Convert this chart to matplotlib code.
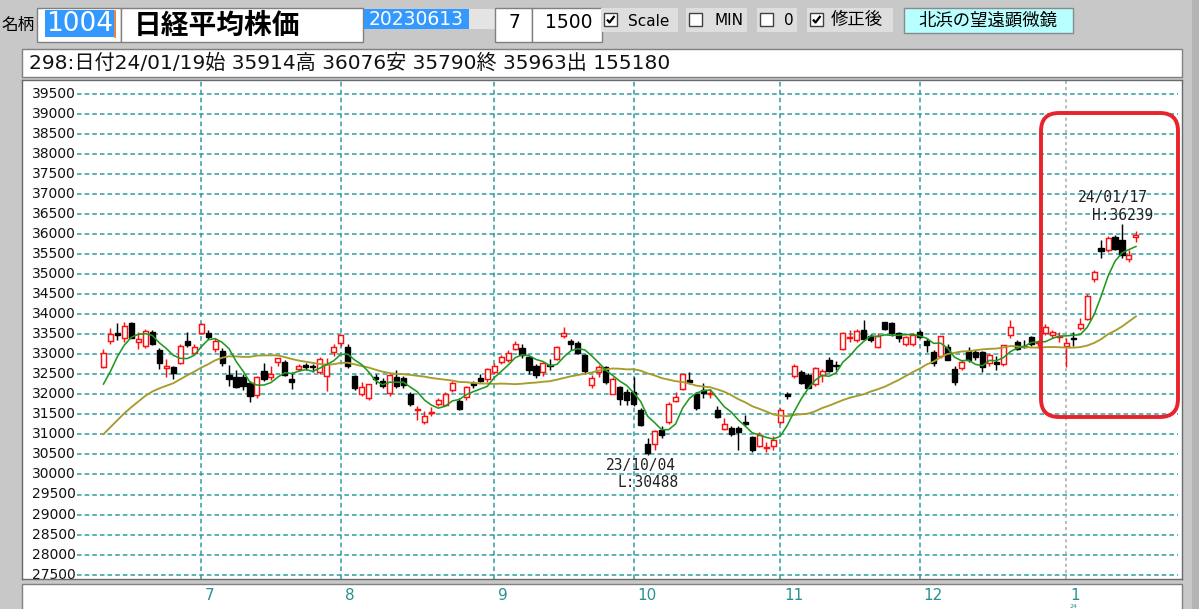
import matplotlib
matplotlib.use('Agg')
import matplotlib.pyplot as plt
from matplotlib.patches import Rectangle, FancyBboxPatch
import numpy as np
import pandas as pd

# ---------------- data ----------------
dates = ["06-13","06-14","06-15","06-16","06-19","06-20","06-21","06-22","06-23","06-26",
         "06-27","06-28","06-29","06-30","07-03","07-04","07-05","07-06","07-07","07-10",
         "07-11","07-12","07-13","07-14","07-18","07-19","07-20","07-21","07-24","07-25",
         "07-26","07-27","07-28","07-31","08-01","08-02","08-03","08-04","08-07","08-08",
         "08-09","08-10","08-14","08-15","08-16","08-17","08-18","08-21","08-22","08-23",
         "08-24","08-25","08-28","08-29","08-30","08-31","09-01","09-04","09-05","09-06",
         "09-07","09-08","09-11","09-12","09-13","09-14","09-15","09-19","09-20","09-21",
         "09-22","09-25","09-26","09-27","09-28","09-29","10-02","10-03","10-04","10-05",
         "10-06","10-10","10-11","10-12","10-13","10-16","10-17","10-18","10-19","10-20",
         "10-23","10-24","10-25","10-26","10-27","10-30","10-31","11-01","11-02","11-06",
         "11-07","11-08","11-09","11-10","11-13","11-14","11-15","11-16","11-17","11-20",
         "11-21","11-22","11-24","11-27","11-28","11-29","11-30","12-01","12-04","12-05",
         "12-06","12-07","12-08","12-11","12-12","12-13","12-14","12-15","12-18","12-19",
         "12-20","12-21","12-22","12-25","12-26","12-27","12-28","12-29","01-04","01-05",
         "01-09","01-10","01-11","01-12","01-15","01-16","01-17","01-18","01-19"]

opens = [32690,33330,33520,33400,33770,33300,33210,33560,33100,32650,
         32670,32790,33340,33040,33520,33520,33130,33080,32480,32440,
         32420,32290,31990,32570,32430,32800,32800,32380,32640,32720,
         32700,32560,32460,33060,33270,33170,32450,32000,31900,32420,
         32330,32030,32440,32400,32000,31600,31300,31520,31760,31720,
         32110,31830,31920,32280,32410,32370,32560,32800,32860,33130,
         33150,32930,32700,32550,32730,32880,33460,33340,33290,32990,
         32220,32550,32670,32010,32170,32050,32050,31600,30760,30760,
         31100,31300,31840,32140,32350,32000,32100,32000,31600,31140,
         31150,31150,31300,30930,30720,30650,30720,31300,32000,32450,
         32550,32490,32260,32480,32850,32720,33130,33400,33360,33600,
         33450,33180,33790,33770,33520,33250,33260,33560,33330,33050,
         32960,33190,32630,32660,33090,33050,33050,32780,32800,32760,
         33490,33300,33200,33430,33280,33520,33480,33440,33200,33400,
         33660,33880,34880,35650,35590,35920,35840,35370,35914]

highs = [33140,33640,33770,33790,33800,33540,33620,33610,33160,32880,
         32700,33250,33540,33250,33780,33590,33400,33150,32720,32600,
         32500,32320,32450,32790,32700,32910,32850,32560,32760,32780,
         32760,32940,32900,33250,33490,33250,32480,32300,32260,32500,
         32400,32500,32600,32450,32050,31710,31570,31680,31900,32050,
         32330,31900,32200,32330,32500,32650,32790,32990,33100,33320,
         33250,32960,32760,32800,32880,33200,33680,33390,33330,33000,
         32490,32720,32700,32420,32200,32130,32420,31650,30900,31120,
         31200,31800,32050,32500,32550,32050,32270,32140,31700,31400,
         31200,31200,31480,30960,31050,30800,30950,31650,32050,32760,
         32600,32520,32680,32630,32920,32830,33550,33600,33620,33850,
         33500,33520,33810,33800,33550,33450,33530,33600,33400,33100,
         33460,33250,32700,32850,33180,33100,33080,33000,32950,33230,
         33850,33350,33350,33450,33350,33760,33600,33560,33400,33560,
         33900,34500,35100,35840,35950,35960,36239,35600,36076]

lows = [32660,33250,33350,33300,33420,33130,33150,33240,32640,32420,
        32380,32760,33170,32980,33500,33380,33050,32700,32200,32150,
        32100,31810,31900,32330,32350,32700,32450,32120,32580,32600,
        32550,32500,32080,32950,33200,32650,32100,31950,31850,32250,
        32150,31950,32150,32150,31700,31350,31250,31450,31700,31700,
        32050,31600,31850,32160,32300,32300,32500,32750,32800,33100,
        32900,32500,32400,32450,32600,32850,33400,33100,33000,32500,
        32150,32420,32250,32000,31720,31720,31700,31200,30488,30600,
        30900,31250,31800,32100,32250,31600,31900,31900,31400,31100,
        30950,30600,31220,30550,30680,30550,30600,31250,31870,32400,
        32250,32150,32200,32300,32550,32600,33100,33300,33300,33380,
        33300,33150,33600,33450,33300,33200,33200,33400,33050,32700,
        32900,32850,32240,32600,32800,32850,32550,32700,32600,32700,
        33400,33100,33150,33200,33150,33480,33400,33300,32690,33200,
        33600,33850,34800,35400,35550,35600,35400,35300,35790]

closes = [33018,33502,33485,33706,33400,33389,33575,33265,32782,32699,
          32538,33194,33234,33189,33753,33423,33339,32773,32388,32190,
          32204,31944,32419,32391,32494,32896,32491,32304,32701,32683,
          32668,32891,32759,33172,33477,32708,32159,32193,32255,32377,
          32204,32474,32200,32239,31767,31626,31451,31566,31857,32010,
          32287,31624,32170,32227,32333,32619,32711,32939,33037,33241,
          32991,32607,32468,32776,32707,33168,33533,33243,33024,32571,
          32402,32679,32315,32372,31873,31858,31760,31238,30527,31075,
          30995,31747,31937,32495,32316,31659,32040,32042,31431,31259,
          31000,31062,31270,30602,30992,30697,30859,31602,31950,32708,
          32272,32166,32646,32568,32585,32696,33520,33424,33585,33388,
          33354,33452,33626,33520,33408,33420,33487,33432,33231,32776,
          33446,32858,32308,32792,32844,32926,32686,32971,32759,33219,
          33676,33140,33169,33254,33306,33681,33540,33464,33288,33377,
          33763,34441,35049,35577,35901,35619,35478,35466,35963]

# closes of the 24 sessions preceding the window (moving-average warm-up)
warmup_closes = [29122,29127,29388,29626,29843,30094,30574,30808,31087,30958,
                 30683,30801,30916,31234,31328,30888,31148,31524,32217,32507,
                 31914,31641,32265,32434]

y_ticks = list(range(27500, 39501, 500))

# ---------------- layout constants ----------------
W, H = 1199, 609
X0, DX = 103.5, 6.976          # pixel of first candle, pixels per session
Y_REF, V_REF, PPU = 93.5, 39500, 0.0401   # pixel of 39500, pixels per yen
PL, PR, PT, PB = 22, 1182, 80, 579        # plot box in pixels

def xi(px):
    return (px - X0) / DX

def vy(py):
    return V_REF - (py - Y_REF) / PPU

TEAL = '#2e9c9c'
RED = '#ff1010'
JP = ['Noto Sans CJK JP']
MIX = ['DejaVu Sans', 'Noto Sans CJK JP']

fig = plt.figure(figsize=(W / 100, H / 100), dpi=100)
fig.patch.set_facecolor('#c8c8c8')

# ---------------- main chart ----------------
ax = fig.add_axes([PL / W, (H - PB) / H, (PR - PL) / W, (PB - PT) / H])
ax.set_facecolor('white')
ax.set_xlim(xi(PL), xi(PR))
ax.set_ylim(vy(PB), vy(PT))
ax.set_xticks([]); ax.set_yticks([])
for s in ax.spines.values():
    s.set_color('#6a6a6a'); s.set_linewidth(1.0)

n = len(closes)
x = np.arange(n)
o = np.array(opens, float); c = np.array(closes, float)
h = np.array(highs, float); l = np.array(lows, float)

# horizontal grid + labels
ax.hlines(y_ticks, xi(77), xi(1178), colors=TEAL, linestyles=(0, (3, 2)),
          linewidth=1.1, zorder=1)
for v in y_ticks:
    ax.text(xi(76), v, str(v), ha='right', va='center', fontsize=10,
            color='#111111', family='DejaVu Sans', clip_on=True, zorder=2)

# month separators
months = [int(d[:2]) for d in dates]
month_idx = [i for i in range(1, n) if months[i] != months[i - 1]]
for i in month_idx:
    if months[i] == 1:
        ax.axvline(i, color='#a8a8a8', linestyle=(0, (2, 2)), linewidth=1.1, zorder=1)
    else:
        ax.axvline(i, color=TEAL, linestyle=(0, (3, 2.2)), linewidth=1.1, zorder=1)

# candles
up = c >= o
wick_col = np.where(up, RED, 'black')
ax.vlines(x, l, h, colors=wick_col, linewidth=1.05, zorder=3)
bottom = np.minimum(o, c)
height = np.maximum(np.abs(c - o), 1.0)
ax.bar(x[up], height[up], bottom=bottom[up], width=0.72, facecolor='white',
       edgecolor=RED, linewidth=1.05, zorder=4)
ax.bar(x[~up], height[~up], bottom=bottom[~up], width=0.74, facecolor='black',
       edgecolor='black', linewidth=1.0, zorder=4)

# moving averages
allc = pd.Series(warmup_closes + closes, dtype=float)
k = len(warmup_closes)
ma5 = allc.rolling(5).mean().iloc[k:].to_numpy()
ma25 = allc.rolling(25).mean().iloc[k:].to_numpy()
ax.plot(x, ma25, color='#a89c2c', linewidth=1.35, zorder=5)
ax.plot(x, ma5, color='#1f9a1f', linewidth=1.15, zorder=6)

# high / low annotations
ih = int(np.argmax(h)); il = int(np.argmin(l))
mono = 'DejaVu Sans Mono'
ax.annotate(f"24/{dates[ih][:2]}/{dates[ih][3:]}", xy=(ih, h[ih]), xytext=(-9, 27),
            textcoords='offset pixels', ha='center', va='center', fontsize=10.5,
            family=mono, color='#202020', zorder=7)
ax.annotate(f"H:{int(h[ih])}", xy=(ih, h[ih]), xytext=(1, 9),
            textcoords='offset pixels', ha='center', va='center', fontsize=10.5,
            family=mono, color='#202020', zorder=7)
ax.annotate(f"23/{dates[il][:2]}/{dates[il][3:]}", xy=(il, l[il]), xytext=(-7, -11),
            textcoords='offset pixels', ha='center', va='center', fontsize=10.5,
            family=mono, color='#202020', zorder=7)
ax.annotate(f"L:{int(l[il])}", xy=(il, l[il]), xytext=(0, -28),
            textcoords='offset pixels', ha='center', va='center', fontsize=10.5,
            family=mono, color='#202020', zorder=7)

# ---------------- overlay (UI chrome) ----------------
ov = fig.add_axes([0, 0, 1, 1], zorder=10)
ov.set_xlim(0, W); ov.set_ylim(H, 0); ov.axis('off'); ov.patch.set_alpha(0)

def box(x0, y0, x1, y1, fc='white', ec='#808080', lw=1.0, z=1):
    ov.add_patch(Rectangle((x0, y0), x1 - x0, y1 - y0, facecolor=fc,
                           edgecolor=ec, linewidth=lw, zorder=z))

def checkbox(x0, y0, checked):
    box(x0, y0, x0 + 13, y0 + 13, fc='white', ec='#404040', lw=1.0, z=3)
    if checked:
        ov.plot([x0 + 3, x0 + 5.5, x0 + 10.5], [y0 + 6.5, y0 + 9.5, y0 + 3],
                color='black', linewidth=1.6, zorder=4, solid_capstyle='butt')

# right-hand window edge
box(1192, 0, W + 2, H + 2, fc='#b4b4b4', ec='none', z=0)

# header row 1
ov.text(1, 25, "名柄", ha='left', va='center', fontsize=12, family=JP, color='black')
box(37, 8, 121, 42)
box(45, 10, 114, 37, fc='#3399ff', ec='none', z=2)
ov.text(79.5, 24, "1004", ha='center', va='center', fontsize=19, color='white',
        family='DejaVu Sans', zorder=3)
ov.plot([114.5, 114.5], [11, 37], color='#e07020', linewidth=1.2, zorder=3)
box(121, 8, 363, 42)
ov.text(134, 25.5, "日経平均株価", ha='left', va='center', fontsize=20, family=JP,
        weight='bold', color='black', zorder=3)
box(364, 9, 469, 29, fc='#3399ff', ec='none')
ov.text(416, 19.5, "20230613", ha='center', va='center', fontsize=13.5, color='white',
        family='DejaVu Sans', zorder=3)
box(469, 9, 495, 29, fc='#e4e4e4', ec='none')
box(495, 8, 532, 42)
ov.text(514, 23, "7", ha='center', va='center', fontsize=13.5, family='DejaVu Sans', zorder=3)
box(532, 8, 602, 42)
ov.text(545, 23, "1500", ha='left', va='center', fontsize=13.5, family='DejaVu Sans', zorder=3)

box(601, 8, 678, 32, fc='#dedede', ec='none')
checkbox(604, 13, True)
ov.text(628, 21, "Scale", ha='left', va='center', fontsize=11, family='DejaVu Sans', zorder=3)
box(686, 8, 747, 32, fc='#dedede', ec='none')
checkbox(689, 13, False)
ov.text(715, 20.5, "MIN", ha='left', va='center', fontsize=11, family='DejaVu Sans', zorder=3)
box(757, 8, 797, 32, fc='#dedede', ec='none')
checkbox(760, 13, False)
ov.text(784, 20.5, "0", ha='left', va='center', fontsize=11, family='DejaVu Sans', zorder=3)
box(807, 8, 893, 32, fc='#dedede', ec='none')
checkbox(810, 13, True)
ov.text(831, 20.5, "修正後", ha='left', va='center', fontsize=12.5, family=JP, zorder=3)
box(904, 8, 1073, 33, fc='#b8ffff', ec='#8a8a8a')
ov.text(988, 20.5, "北浜の望遠顕微鏡", ha='center', va='center', fontsize=12.5,
        family=JP, zorder=3)

# header row 2
box(22, 49, PR, 77)
ov.text(29, 63.5, "298:日付24/01/19始 35914高 36076安 35790終 35963出 155180",
        ha='left', va='center', fontsize=14.5, family=MIX, color='#111111', zorder=3)

# bottom month strip
box(22, 584, PR, 612)
for i in month_idx:
    px = X0 + DX * i
    ov.text(px + 4, 596, str(months[i]), ha='left', va='center', fontsize=11,
            family='DejaVu Sans', color='#2a9090', zorder=3)
ov.text(X0 + DX * month_idx[-1] + 3, 608.5, "24", ha='left', va='bottom', fontsize=4.5,
        family='DejaVu Sans', color='#2a9090', zorder=3)

# red highlight frame
ov.add_patch(FancyBboxPatch((1041, 113), 137, 304,
                            boxstyle="round,pad=0,rounding_size=18",
                            facecolor='none', edgecolor='#e8232b', linewidth=2.8, zorder=8))

fig.savefig('out.png', dpi=100, facecolor=fig.get_facecolor())
